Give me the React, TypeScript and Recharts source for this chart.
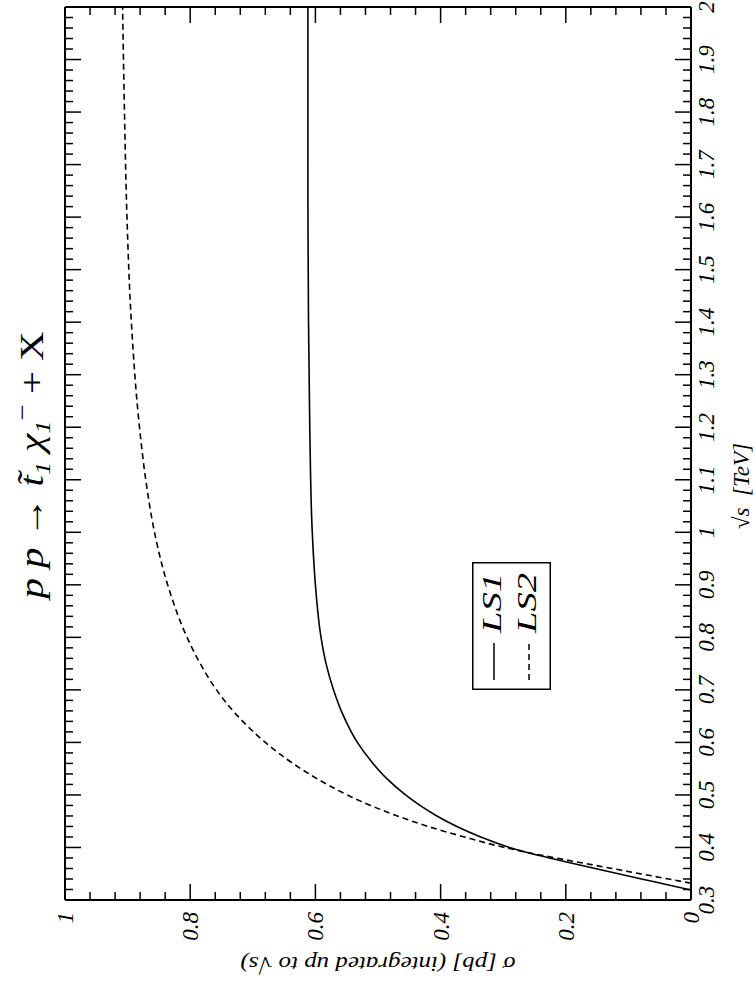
import React from 'react';
import { LineChart, Line, XAxis, YAxis, Legend } from 'recharts';

// LS1 (solid): sqrt(s) [TeV] -> sigma [pb], integrated up to sqrt(s)
const ls1Sqrt = [0.319, 0.33, 0.34, 0.35, 0.36, 0.37, 0.38, 0.39, 0.40, 0.42, 0.44, 0.46, 0.48, 0.50, 0.53, 0.56, 0.60, 0.65, 0.70, 0.75, 0.80, 0.90, 1.0, 1.2, 1.4, 1.7, 2.0];
const ls1Sigma = [0.0, 0.041, 0.079, 0.116, 0.153, 0.19, 0.226, 0.26, 0.29, 0.336, 0.374, 0.406, 0.433, 0.456, 0.485, 0.508, 0.533, 0.555, 0.571, 0.583, 0.591, 0.6, 0.605, 0.609, 0.611, 0.612, 0.612];

// LS2 (dashed)
const ls2Sqrt = [0.332, 0.34, 0.35, 0.36, 0.37, 0.38, 0.39, 0.40, 0.42, 0.44, 0.46, 0.48, 0.50, 0.53, 0.56, 0.60, 0.65, 0.70, 0.75, 0.80, 0.90, 1.0, 1.1, 1.2, 1.4, 1.6, 1.8, 2.0];
const ls2Sigma = [0.0, 0.036, 0.081, 0.126, 0.171, 0.216, 0.259, 0.298, 0.362, 0.42, 0.469, 0.512, 0.549, 0.596, 0.636, 0.68, 0.724, 0.758, 0.784, 0.805, 0.836, 0.857, 0.871, 0.881, 0.894, 0.901, 0.905, 0.908];

const seriesNames = ['LS1', 'LS2'];

const xMajorTicks = [0.3, 0.4, 0.5, 0.6, 0.7, 0.8, 0.9, 1.0, 1.1, 1.2, 1.3, 1.4, 1.5, 1.6, 1.7, 1.8, 1.9, 2.0];
const xTickLabels = ['0.3', '0.4', '0.5', '0.6', '0.7', '0.8', '0.9', '1', '1.1', '1.2', '1.3', '1.4', '1.5', '1.6', '1.7', '1.8', '1.9', '2'];
const yMajorTicks = [0, 0.2, 0.4, 0.6, 0.8, 1.0];
const yTickLabels = ['0', '0.2', '0.4', '0.6', '0.8', '1'];

const titleText = { a: 'p p', arrow: ' \u2192 ', t: 't\u0303', chi: 'χ', rest: ' + X' };
const xAxisTitle = '\u221As\u00A0\u00A0[TeV]';
const yAxisTitle = 'σ [pb] (integrated up to \u221As)';

const W = 981;
const H = 755;
const FONT = "'Liberation Serif', 'Times New Roman', Times, Tinos, serif";
const txt = { fontFamily: FONT };

const withMinors = (majors: number[], n: number) => {
  const out: number[] = [];
  for (let i = 0; i < majors.length - 1; i++) {
    for (let k = 0; k < n; k++) {
      out.push(Math.round((majors[i] + (k * (majors[i + 1] - majors[i])) / n) * 10000) / 10000);
    }
  }
  out.push(majors[majors.length - 1]);
  return out;
};
const xTicksAll = withMinors(xMajorTicks, 5);
const yTicksAll = withMinors(yMajorTicks, 5);

const ls1Data = ls1Sqrt.map((s, i) => ({ s, sigma: ls1Sigma[i] }));
const ls2Data = ls2Sqrt.map((s, i) => ({ s, sigma: ls2Sigma[i] }));

const majorIdx = (arr: number[], v: number) => arr.findIndex((m) => Math.abs(m - v) < 1e-6);
const MAJ = 16;
const MIN = 8;

const BottomTick = (props: any) => {
  const { x, y, payload } = props;
  const idx = majorIdx(xMajorTicks, payload.value);
  return (
    <g>
      <line x1={x} y1={y} x2={x} y2={y - (idx >= 0 ? MAJ : MIN)} stroke="#000" strokeWidth={1.5} />
      {idx >= 0 && (
        <text x={x} y={y + 23} textAnchor="middle" style={txt} fontStyle="italic" fontSize={23} fill="#000">
          {xTickLabels[idx]}
        </text>
      )}
    </g>
  );
};
const TopTick = (props: any) => {
  const { x, y, payload } = props;
  const idx = majorIdx(xMajorTicks, payload.value);
  return <line x1={x} y1={y} x2={x} y2={y + (idx >= 0 ? MAJ : MIN)} stroke="#000" strokeWidth={1.5} />;
};
const LeftTick = (props: any) => {
  const { x, y, payload } = props;
  const idx = majorIdx(yMajorTicks, payload.value);
  return (
    <g>
      <line x1={x} y1={y} x2={x + (idx >= 0 ? MAJ : MIN)} y2={y} stroke="#000" strokeWidth={1.5} />
      {idx >= 0 && (
        <text x={x - 12} y={y + 8} textAnchor="end" style={txt} fontStyle="italic" fontSize={23} fill="#000">
          {yTickLabels[idx]}
        </text>
      )}
    </g>
  );
};
const RightTick = (props: any) => {
  const { x, y, payload } = props;
  const idx = majorIdx(yMajorTicks, payload.value);
  return <line x1={x} y1={y} x2={x - (idx >= 0 ? MAJ : MIN)} y2={y} stroke="#000" strokeWidth={1.5} />;
};

const LegendBox = () => (
  <svg width={128} height={79} style={{ display: 'block' }}>
    <rect x={0.75} y={0.75} width={126.5} height={77.5} fill="#fff" stroke="#000" strokeWidth={1.5} />
    <line x1={10} y1={22} x2={47} y2={22} stroke="#000" strokeWidth={1.5} />
    <text x={57} y={29} style={txt} fontStyle="italic" fontSize={28} textLength={60} lengthAdjust="spacingAndGlyphs" fill="#000">
      {seriesNames[0]}
    </text>
    <line x1={10} y1={57} x2={47} y2={57} stroke="#000" strokeWidth={1.5} strokeDasharray="6 4" />
    <text x={57} y={64} style={txt} fontStyle="italic" fontSize={28} textLength={60} lengthAdjust="spacingAndGlyphs" fill="#000">
      {seriesNames[1]}
    </text>
  </svg>
);

const axisLine = { stroke: '#000', strokeWidth: 2 };

export default function App() {
  return (
    <div
      style={{
        position: 'absolute',
        left: 0,
        top: 0,
        width: W,
        height: H,
        background: '#fff',
        transformOrigin: '0 0',
        transform: `translate(0px, ${W}px) rotate(-90deg)`,
      }}
    >
      <LineChart width={W} height={H} margin={{ top: 0, right: 0, bottom: 0, left: 0 }}>
        <XAxis
          xAxisId="b"
          dataKey="s"
          type="number"
          domain={[0.3, 2]}
          ticks={xTicksAll}
          interval={0}
          orientation="bottom"
          height={64}
          tickLine={false}
          tickSize={0}
          tickMargin={0}
          axisLine={axisLine}
          tick={<BottomTick />}
          allowDataOverflow
        />
        <XAxis
          xAxisId="t"
          dataKey="s"
          type="number"
          domain={[0.3, 2]}
          ticks={xTicksAll}
          interval={0}
          orientation="top"
          height={65}
          tickLine={false}
          tickSize={0}
          tickMargin={0}
          axisLine={axisLine}
          tick={<TopTick />}
          allowDataOverflow
        />
        <YAxis
          yAxisId="l"
          type="number"
          domain={[0, 1]}
          ticks={yTicksAll}
          interval={0}
          orientation="left"
          width={81}
          tickLine={false}
          tickSize={0}
          tickMargin={0}
          axisLine={axisLine}
          tick={<LeftTick />}
          allowDataOverflow
        />
        <YAxis
          yAxisId="r"
          type="number"
          domain={[0, 1]}
          ticks={yTicksAll}
          interval={0}
          orientation="right"
          width={7}
          tickLine={false}
          tickSize={0}
          tickMargin={0}
          axisLine={axisLine}
          tick={<RightTick />}
          allowDataOverflow
        />
        <Line
          xAxisId="b"
          yAxisId="l"
          data={ls1Data}
          dataKey="sigma"
          name={seriesNames[0]}
          type="monotone"
          stroke="#000"
          strokeWidth={1.6}
          dot={false}
          activeDot={false}
          isAnimationActive={false}
        />
        <Line
          xAxisId="b"
          yAxisId="l"
          data={ls2Data}
          dataKey="sigma"
          name={seriesNames[1]}
          type="monotone"
          stroke="#000"
          strokeWidth={1.6}
          strokeDasharray="6 4"
          dot={false}
          activeDot={false}
          isAnimationActive={false}
        />
        <Legend
          layout="vertical"
          align="center"
          verticalAlign="middle"
          content={() => <LegendBox />}
          wrapperStyle={{ position: 'absolute', left: 291, top: 472, width: 128, height: 79, margin: 0, padding: 0 }}
        />
      </LineChart>
      <svg width={W} height={H} style={{ position: 'absolute', left: 0, top: 0, pointerEvents: 'none' }}>
        <g transform="translate(516,43) scale(1.2,1)">
          <text x={0} y={0} textAnchor="middle" style={txt} fontSize={34} fill="#000">
            <tspan fontStyle="italic">{titleText.a}</tspan>
            <tspan>{titleText.arrow}</tspan>
            <tspan fontStyle="italic">{titleText.t}</tspan>
            <tspan fontStyle="italic" fontSize={22} dy={7}>1</tspan>
            <tspan dy={-7}>{'\u00A0'}</tspan>
            <tspan fontStyle="italic">{titleText.chi}</tspan>
            <tspan fontStyle="italic" fontSize={22} dy={7}>1</tspan>
            <tspan fontSize={24} dy={-20}>{'\u2212'}</tspan>
            <tspan dy={13}>{titleText.rest}</tspan>
          </text>
        </g>
        <text x={452} y={749} textAnchor="start" style={txt} fontStyle="italic" fontSize={23} fill="#000">
          {xAxisTitle}
        </text>
        <text
          x={24}
          y={378}
          transform="rotate(-90 24 378)"
          textAnchor="middle"
          style={txt}
          fontStyle="italic"
          fontSize={22}
          textLength={275}
          lengthAdjust="spacingAndGlyphs"
          fill="#000"
        >
          {yAxisTitle}
        </text>
      </svg>
    </div>
  );
}
